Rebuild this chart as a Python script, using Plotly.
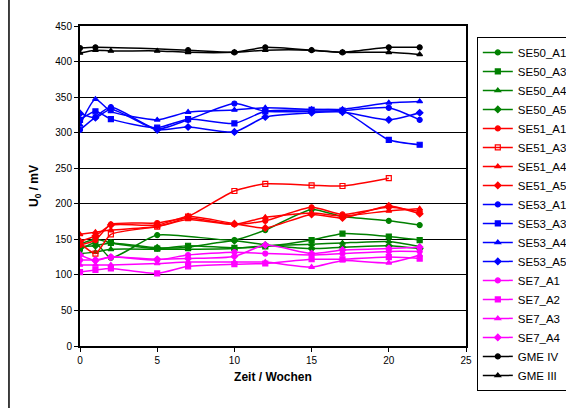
import plotly.graph_objects as go

# --- data -----------------------------------------------------------------
weeks_full = [0, 1, 2, 5, 7, 10, 12, 15, 17, 20, 22]

se50_a1_x = [0, 1, 2, 5, 10, 12, 15, 17, 20, 22]
se50_a1 = [135, 145, 124, 156, 149, 163, 192, 182, 176, 170]
se50_a3 = [143, 150, 145, 137, 141, 138, 140, 149, 158, 154, 149]
se50_a4 = [130, 132, 136, 136, 136, 137, 141, 143, 145, 147, 140]
se50_a5 = [140, 141, 145, 138, 139, 148, 142, 137, 139, 141, 137]

se51_a1 = [142, 149, 171, 173, 180, 171, 176, 195, 185, 195, 189]
se51_a3_x = [0, 1, 2, 5, 7, 10, 12, 15, 17, 20]
se51_a3 = [145, 130, 157, 168, 182, 218, 228, 226, 225, 236]
se51_a4 = [157, 160, 163, 168, 178, 171, 181, 187, 183, 190, 193]
se51_a5 = [147, 155, 170, 170, 182, 172, 166, 185, 180, 197, 186]

se53_a1 = [304, 322, 336, 305, 318, 341, 330, 330, 331, 335, 318]
se53_a3 = [318, 330, 319, 307, 319, 313, 330, 332, 331, 290, 283]
se53_a4 = [311, 347, 330, 318, 329, 332, 335, 333, 333, 342, 344]
se53_a5 = [327, 321, 333, 304, 308, 301, 322, 328, 329, 318, 328]

se7_a1 = [121, 121, 125, 121, 128, 132, 130, 128, 130, 133, 133]
se7_a2 = [104, 107, 109, 102, 112, 115, 116, 122, 122, 125, 123]
se7_a3 = [114, 114, 114, 116, 118, 118, 118, 111, 120, 117, 128]
se7_a4 = [128, 120, 125, 122, 123, 126, 142, 130, 135, 137, 139]

gme4_x = [0, 1, 7, 10, 12, 15, 17, 20, 22]
gme4 = [419, 420, 416, 413, 420, 416, 413, 420, 420]
gme3 = [412, 416, 415, 415, 413, 413, 416, 416, 413, 413, 410]

y_ticks = [0, 50, 100, 150, 200, 250, 300, 350, 400, 450]
x_ticks = [0, 5, 10, 15, 20, 25]

GREEN, RED, BLUE, MAG, BLK = "#008000", "#FF0000", "#0000FF", "#FF00FF", "#000000"

series = [
    ("SE50_A1", se50_a1_x, se50_a1, GREEN, "circle"),
    ("SE50_A3", weeks_full, se50_a3, GREEN, "square"),
    ("SE50_A4", weeks_full, se50_a4, GREEN, "triangle-up"),
    ("SE50_A5", weeks_full, se50_a5, GREEN, "diamond"),
    ("SE51_A1", weeks_full, se51_a1, RED, "circle"),
    ("SE51_A3", se51_a3_x, se51_a3, RED, "square-open"),
    ("SE51_A4", weeks_full, se51_a4, RED, "triangle-up"),
    ("SE51_A5", weeks_full, se51_a5, RED, "diamond"),
    ("SE53_A1", weeks_full, se53_a1, BLUE, "circle"),
    ("SE53_A3", weeks_full, se53_a3, BLUE, "square"),
    ("SE53_A4", weeks_full, se53_a4, BLUE, "triangle-up"),
    ("SE53_A5", weeks_full, se53_a5, BLUE, "diamond"),
    ("SE7_A1", weeks_full, se7_a1, MAG, "circle"),
    ("SE7_A2", weeks_full, se7_a2, MAG, "square"),
    ("SE7_A3", weeks_full, se7_a3, MAG, "triangle-up"),
    ("SE7_A4", weeks_full, se7_a4, MAG, "diamond"),
    ("GME IV", gme4_x, gme4, BLK, "circle"),
    ("GME III", weeks_full, gme3, BLK, "triangle-up"),
]

fig = go.Figure()
for i, (name, xs, ys, col, sym) in enumerate(series):
    fig.add_trace(go.Scatter(
        x=xs, y=ys, name=name, mode="lines+markers",
        line=dict(color=col, width=1.5, shape="spline", smoothing=0.6),
        marker=dict(color=col, symbol=sym, size=5,
                    line=dict(color=col, width=1.2)),
    ))

fig.update_layout(
    width=566, height=408,
    margin=dict(l=80, r=100, t=26, b=62, autoexpand=False),
    paper_bgcolor="white", plot_bgcolor="white",
    font=dict(family="Liberation Sans, Arial, sans-serif", size=10, color="black"),
    showlegend=True,
    legend=dict(
        x=1.028, y=0.966, xanchor="left", yanchor="top",
        bordercolor="black", borderwidth=1, bgcolor="white",
        font=dict(size=11.5), tracegroupgap=0,
        itemwidth=30, maxheight=400,
    ),
    xaxis=dict(
        range=[0, 25], tickvals=x_ticks, showgrid=False, zeroline=False,
        showline=True, linecolor="black", linewidth=2, mirror=True,
        ticks="outside", ticklen=4, tickcolor="black", tickwidth=1,
        title=dict(text="<b>Zeit / Wochen</b>", font=dict(size=12), standoff=8),
    ),
    yaxis=dict(
        range=[0, 450], tickvals=y_ticks, showgrid=True, gridcolor="black",
        gridwidth=1, zeroline=False,
        showline=True, linecolor="black", linewidth=2, mirror=True,
        ticks="outside", ticklen=4, tickcolor="black", tickwidth=1,
        title=dict(text="<b>U<sub>0</sub> / mV</b>", font=dict(size=12), standoff=14),
    ),
    shapes=[
        dict(type="line", xref="paper", yref="paper",
             x0=-0.184, x1=-0.184, y0=-0.2, y1=1.09,
             line=dict(color="black", width=1.5)),
    ],
)

fig.write_html("out.html")
